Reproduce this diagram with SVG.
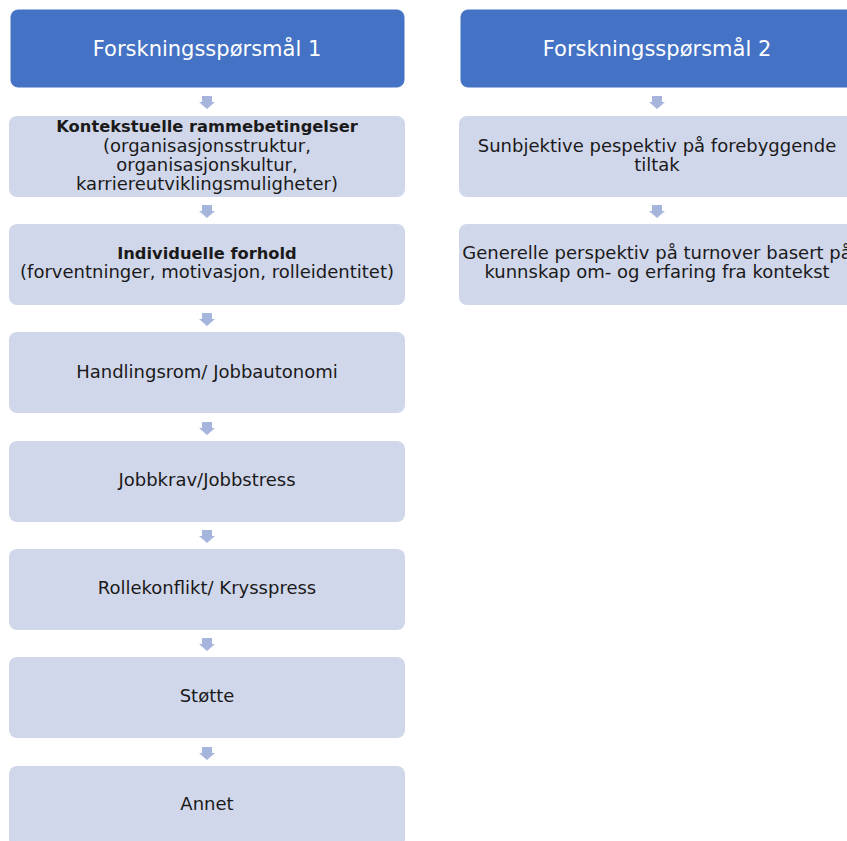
<svg xmlns="http://www.w3.org/2000/svg" width="847" height="841" viewBox="0 0 847 841">
<defs>
<style>
.hdr{fill:#4472C4;stroke:#4472C4;}
.box{fill:#D1D7EA;}
.ht{font-family:"DejaVu Sans","Open Sans",sans-serif;font-size:21px;fill:#FFFFFF;text-anchor:middle;}
.bt{font-family:"DejaVu Sans","Open Sans",sans-serif;font-size:18px;fill:#1A1A1A;text-anchor:middle;}
.b{font-weight:bold;font-size:16.3px;}
.arr{fill:#A6B5DB;}
</style>
<path id="ar" d="M-5,-6 H5 V0 H8 L0,7 L-8,0 H-5 Z"/>
</defs>
<rect width="847" height="841" fill="#FFFFFF"/>
<g id="connectors" class="arr">
<use href="#ar" x="207" y="102"/>
<use href="#ar" x="207" y="211"/>
<use href="#ar" x="207" y="319"/>
<use href="#ar" x="207" y="428"/>
<use href="#ar" x="207" y="536"/>
<use href="#ar" x="207" y="644"/>
<use href="#ar" x="207" y="753"/>
<use href="#ar" x="657" y="102"/>
<use href="#ar" x="657" y="211"/>
</g>
<g id="q1">
<rect class="hdr" x="11" y="10" width="393" height="77" rx="7"/>
<text class="ht" x="207" y="56">Forskningsspørsmål 1</text>
</g>
<g id="n1">
<rect class="box" x="9" y="116" width="396" height="81" rx="8"/>
<text class="bt" x="207" y="132"><tspan class="b">Kontekstuelle rammebetingelser</tspan><tspan x="207" dy="19.5">(organisasjonsstruktur,</tspan><tspan x="207" dy="19">organisasjonskultur,</tspan><tspan x="207" dy="19">karriereutviklingsmuligheter)</tspan></text>
</g>
<g id="n2">
<rect class="box" x="9" y="224" width="396" height="81" rx="8"/>
<text class="bt" x="207" y="259"><tspan class="b">Individuelle forhold</tspan><tspan x="207" dy="19">(forventninger,  motivasjon, rolleidentitet)</tspan></text>
</g>
<g id="n3">
<rect class="box" x="9" y="332" width="396" height="81" rx="8"/>
<text class="bt" x="207" y="378">Handlingsrom/ Jobbautonomi</text>
</g>
<g id="n4">
<rect class="box" x="9" y="441" width="396" height="81" rx="8"/>
<text class="bt" x="207" y="486">Jobbkrav/Jobbstress</text>
</g>
<g id="n5">
<rect class="box" x="9" y="549" width="396" height="81" rx="8"/>
<text class="bt" x="207" y="594">Rollekonflikt/ Krysspress</text>
</g>
<g id="n6">
<rect class="box" x="9" y="657" width="396" height="81" rx="8"/>
<text class="bt" x="207" y="702">Støtte</text>
</g>
<g id="n7">
<rect class="box" x="9" y="766" width="396" height="81" rx="8"/>
<text class="bt" x="207" y="810">Annet</text>
</g>
<g id="q2">
<rect class="hdr" x="461" y="10" width="393" height="77" rx="7"/>
<text class="ht" x="657" y="56">Forskningsspørsmål 2</text>
</g>
<g id="m1">
<rect class="box" x="459" y="116" width="396" height="81" rx="8"/>
<text class="bt" x="657" y="152">Sunbjektive pespektiv på forebyggende<tspan x="657" dy="19">tiltak</tspan></text>
</g>
<g id="m2">
<rect class="box" x="459" y="224" width="396" height="81" rx="8"/>
<text class="bt" x="657" y="259">Generelle perspektiv på turnover basert på<tspan x="657" dy="19">kunnskap om- og erfaring fra kontekst</tspan></text>
</g>
</svg>
